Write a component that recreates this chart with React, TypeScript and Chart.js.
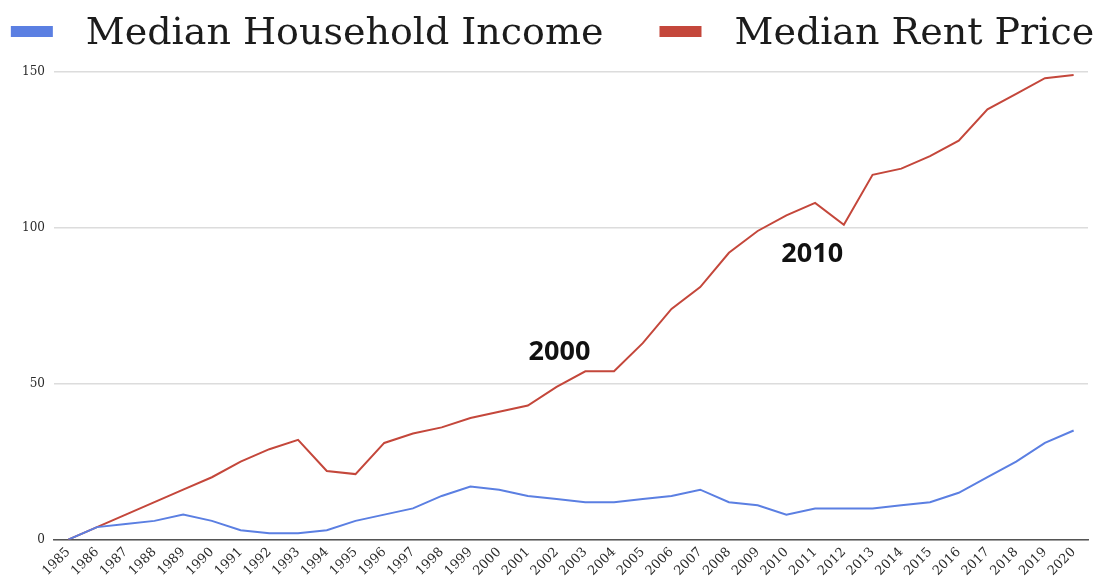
import React, { useEffect, useRef } from "react";
import { Chart, registerables } from "chart.js";

Chart.register(...registerables);

const years = [
  "1985", "1986", "1987", "1988", "1989", "1990", "1991", "1992", "1993", "1994",
  "1995", "1996", "1997", "1998", "1999", "2000", "2001", "2002", "2003", "2004",
  "2005", "2006", "2007", "2008", "2009", "2010", "2011", "2012", "2013", "2014",
  "2015", "2016", "2017", "2018", "2019", "2020",
];

const householdIncome = [
  0, 4, 5, 6, 8, 6, 3, 2, 2, 3,
  6, 8, 10, 14, 17, 16, 14, 13, 12, 12,
  13, 14, 16, 12, 11, 8, 10, 10, 10, 11,
  12, 15, 20, 25, 31, 35,
];

const rentPrice = [
  0, 4, 8, 12, 16, 20, 25, 29, 32, 22,
  21, 31, 34, 36, 39, 41, 43, 49, 54, 54,
  63, 74, 81, 92, 99, 104, 108, 101, 117, 119,
  123, 128, 138, 143, 148, 149,
];

const yTicks = [0, 50, 100, 150];

// category position (index along the x axis) and value for each note
const annotations = [
  { text: "2000", at: 17.1, value: 60 },
  { text: "2010", at: 25.9, value: 91.5 },
];

const annotationPlugin = {
  id: "yearNotes",
  afterDatasetsDraw(chart: any) {
    const { ctx, scales } = chart;
    ctx.save();
    ctx.font = "bold 27px 'Open Sans', sans-serif";
    ctx.fillStyle = "#111";
    ctx.textAlign = "center";
    ctx.textBaseline = "middle";
    annotations.forEach((a) => {
      const x = scales.x.getPixelForValue(a.at);
      const y = scales.y.getPixelForValue(a.value);
      ctx.fillText(a.text, x, y);
    });
    ctx.restore();
  },
};

const legendPlugin = {
  id: "wideLegend",
  afterDraw(chart: any) {
    const { ctx, width } = chart;
    const sets = chart.data.datasets;
    ctx.save();
    ctx.font = "38px 'DejaVu Serif', serif";
    const boxW = 42;
    const boxH = 11;
    const boxGap = 33;
    const itemGap = 56;
    const widths = sets.map((d: any) => ctx.measureText(d.label).width);
    let total = 0;
    widths.forEach((w: number, i: number) => {
      total += boxW + boxGap + w + (i < widths.length - 1 ? itemGap : 0);
    });
    let x = (width - total) / 2 + 2;
    const cy = 31.5;
    sets.forEach((d: any, i: number) => {
      ctx.fillStyle = d.borderColor;
      ctx.fillRect(x, cy - boxH / 2, boxW, boxH);
      x += boxW + boxGap;
      ctx.fillStyle = "#1c1c1c";
      ctx.textBaseline = "alphabetic";
      ctx.textAlign = "left";
      ctx.fillText(d.label, x, 44);
      x += widths[i] + itemGap;
    });
    ctx.restore();
  },
};

export default function App() {
  const canvasRef = useRef<HTMLCanvasElement | null>(null);

  useEffect(() => {
    document.body.style.margin = "0";
    const canvas = canvasRef.current;
    if (!canvas) return;
    const chart = new Chart(canvas, {
      type: "line",
      data: {
        labels: years,
        datasets: [
          {
            label: "Median Household Income",
            data: householdIncome,
            borderColor: "#5b7fe2",
            backgroundColor: "#5b7fe2",
            borderWidth: 2,
            pointRadius: 0,
            tension: 0,
          },
          {
            label: "Median Rent Price",
            data: rentPrice,
            borderColor: "#c4473b",
            backgroundColor: "#c4473b",
            borderWidth: 2,
            pointRadius: 0,
            tension: 0,
          },
        ],
      },
      options: {
        animation: false,
        responsive: false,
        maintainAspectRatio: false,
        layout: { padding: { left: 13, right: 13, top: 72, bottom: 0 } },
        plugins: {
          legend: { display: false },
          tooltip: { enabled: false },
        },
        scales: {
          x: {
            offset: true,
            grid: { display: false, drawTicks: false },
            border: { display: true, color: "#555", width: 1.5 },
            ticks: {
              autoSkip: false,
              maxRotation: 45,
              minRotation: 45,
              color: "#2a2a2a",
              padding: 5,
              font: { family: "'DejaVu Serif', serif", size: 13 },
            },
          },
          y: {
            min: 0,
            max: 150,
            afterBuildTicks(axis: any) {
              axis.ticks = yTicks.map((v) => ({ value: v }));
            },
            grid: { color: "#dcdcdc", lineWidth: 1.5, drawTicks: false },
            border: { display: false },
            ticks: {
              color: "#2a2a2a",
              padding: 9,
              font: { family: "'DejaVu Serif', serif", size: 12 },
            },
          },
        },
      },
      plugins: [annotationPlugin, legendPlugin],
    });
    return () => chart.destroy();
  }, []);

  return (
    <div style={{ position: "absolute", left: 0, top: 0, width: 1101, height: 584, background: "#fff" }}>
      <canvas ref={canvasRef} width={1101} height={584} style={{ width: 1101, height: 584 }} />
    </div>
  );
}
